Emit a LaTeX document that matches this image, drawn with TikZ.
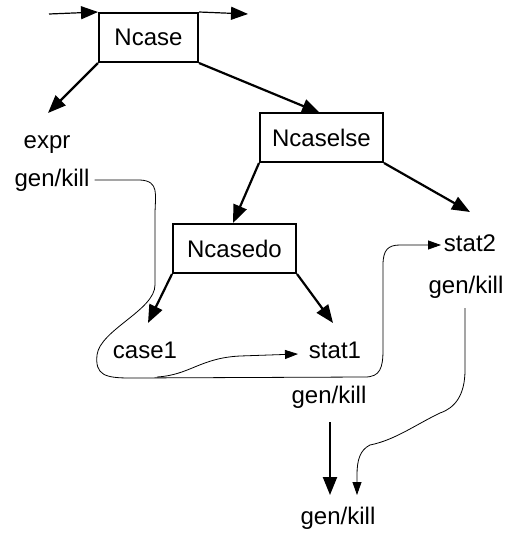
\documentclass[tikz,border=0pt]{standalone}
\usepackage{fontspec}
\setmainfont{Liberation Sans}
\usetikzlibrary{arrows.meta}
\begin{document}
\begin{tikzpicture}[x=1pt,y=-1pt,
  box/.style={draw,line width=2pt,minimum width=#1,minimum height=49pt,inner sep=0pt,font=\fontsize{24}{28}\selectfont},
  lbl/.style={inner sep=0pt,text height=17pt,text depth=5pt,font=\fontsize{24}{28}\selectfont},
  main/.style={line width=2.2pt,-{Triangle[length=18pt,width=14pt]}},
  flow/.style={line width=1.2pt,-{Triangle[length=17pt,width=13pt]}},
  thin/.style={line width=0.8pt,-{Triangle[length=13pt,width=9pt]}}]
\useasboundingbox (0,0) rectangle (505,536);
\node[box=99pt] (ncase) at (148.5,37.5) {Ncase};
\node[box=123pt] (ncaselse) at (321.5,137.5) {Ncaselse};
\node[box=123pt] (ncasedo) at (234.5,248.5) {Ncasedo};
\node[lbl] (expr) at (47,142) {expr};
\node[lbl] (gk1) at (52,180) {gen/kill};
\node[lbl] (case1) at (145,352) {case1};
\node[lbl] (stat1) at (335,352) {stat1};
\node[lbl] (gk2) at (329,397) {gen/kill};
\node[lbl] (stat2) at (470,245) {stat2};
\node[lbl] (gk3) at (466,287) {gen/kill};
\node[lbl] (gk4) at (338,518) {gen/kill};
\coordinate (in) at (49,14);
\coordinate (out) at (248,14);
\coordinate (texpr) at (48,113);
\coordinate (tcaselse) at (320,113);
\coordinate (tcasedo) at (233,223);
\coordinate (tstat2) at (470,212);
\coordinate (tcase1) at (148,323);
\coordinate (tstat1) at (333,323);
\coordinate (gk2b) at (330,422);
\coordinate (gk4a) at (330,495);
\coordinate (gk4b) at (357,495);
\coordinate (gk3b) at (465,308);
\coordinate (s2in) at (441,245);
\coordinate (s1in) at (298,354);
\draw[flow] (in) -- (ncase.north west);
\draw[flow] (ncase.north east) -- (out);
\draw[main] (ncase.south west) -- (texpr);
\draw[main] (ncase.south east) -- (tcaselse);
\draw[main] (ncaselse.south west) -- (tcasedo);
\draw[main] (ncaselse.south east) -- (tstat2);
\draw[main] (ncasedo.south west) -- (tcase1);
\draw[main] (ncasedo.south east) -- (tstat1);
\draw[main] (gk2b) -- (gk4a);
\draw[thin] (gk1.east) ++(5,0) -- (140,180) .. controls (160,181) and (155,195) .. (155,215) -- (155,285)
  .. controls (155,310) and (100,330) .. (97,355) .. controls (95,375) and (105,378) .. (130,378)
  -- (365,377) .. controls (380,377) and (383,368) .. (383,350) -- (383,265)
  .. controls (383,250) and (388,245) .. (400,245) -- (s2in);
\draw[thin] (157,377) .. controls (190,375) and (200,358) .. (240,356) -- (s1in);
\draw[thin] (gk3b) -- (465,370) .. controls (465,395) and (455,408) .. (440,413)
  .. controls (415,425) and (395,440) .. (370,445) .. controls (360,450) and (357,460) .. (357,475) -- (gk4b);
\end{tikzpicture}
\end{document}
